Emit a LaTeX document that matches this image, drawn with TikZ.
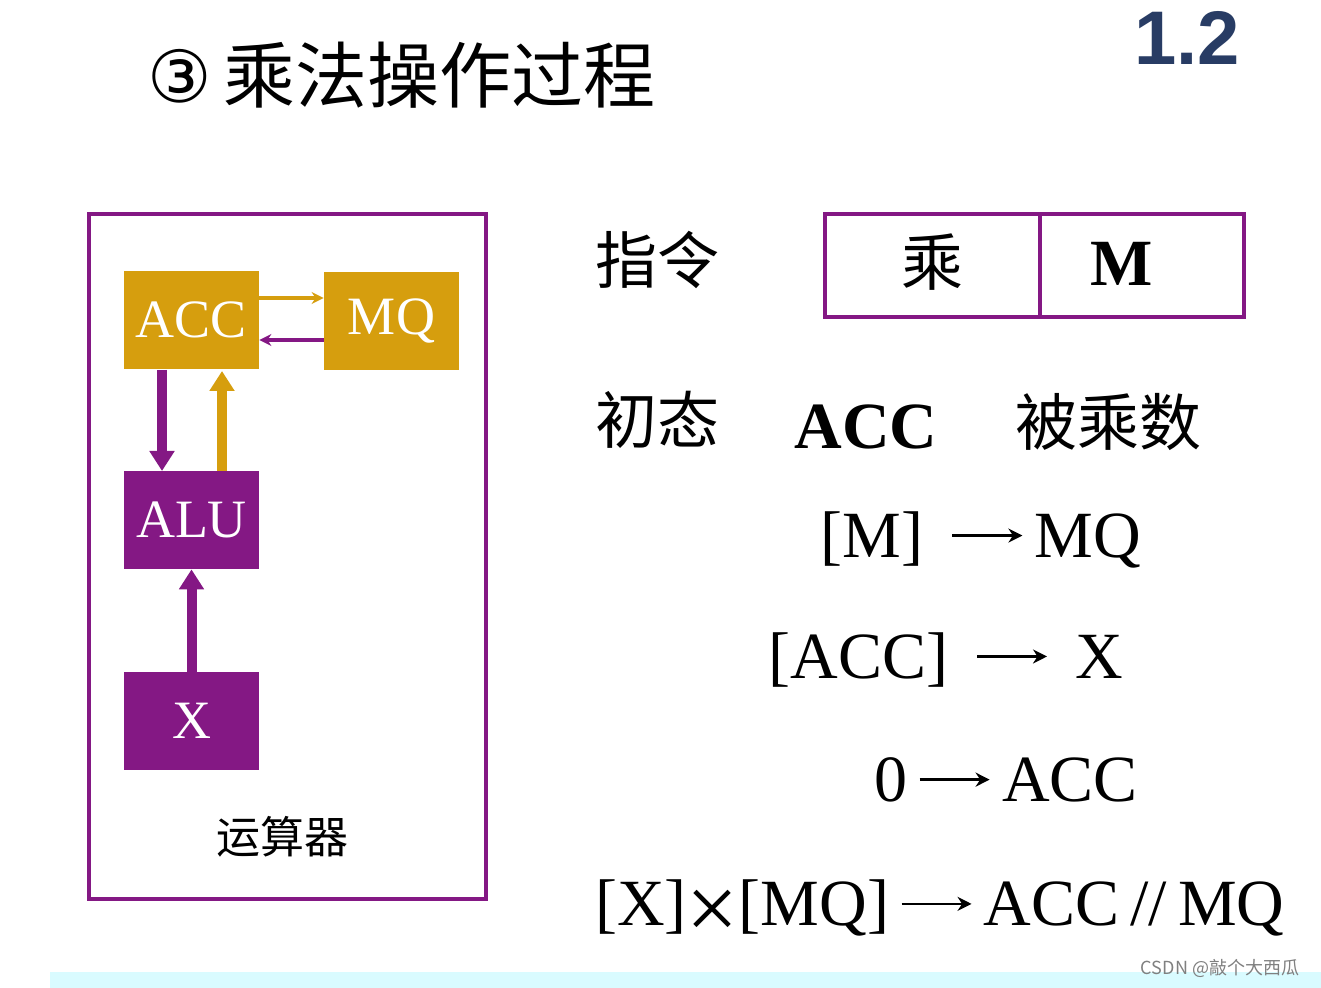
\documentclass[tikz,border=0pt]{standalone}
\usepackage{fontspec}
\setmainfont{Liberation Serif}
\newfontfamily\cjk{Noto Sans CJK SC}
\newfontfamily\dvs{DejaVu Sans}
\newfontfamily\lsans{Liberation Sans}
\usetikzlibrary{arrows.meta}
\definecolor{pur}{RGB}{132,24,132}
\definecolor{gold}{RGB}{214,158,14}
\definecolor{navy}{RGB}{40,60,100}
\newcommand{\larr}[1]{\,\tikz[baseline={(0,-11pt)}]\draw[line width=1.4pt,-{Stealth[width=7pt,length=7pt]}] (0,0)--(#1,0);\,}
\begin{document}
\begin{tikzpicture}[x=0.5pt,y=-0.5pt,
 blk/.style={draw=none,minimum width=67.5pt,minimum height=49pt,inner sep=0pt,text=white,font=\fontsize{27}{28}\selectfont},
 thick arrow/.style={line width=5pt,-{Triangle[width=12pt,length=10pt]}},
 thin arrow/.style={line width=1.8pt,-{Stealth[width=6pt,length=6pt]}},
 big/.style={font=\fontsize{33}{36}\selectfont},
 cn/.style={font=\cjk\fontsize{31}{34}\selectfont}]
\useasboundingbox (0,0) rectangle (1321,988);
\fill[white] (0,0) rectangle (1321,988);
\fill[blue!10!cyan!15] (50,972) rectangle (1321,988);
\node[font=\cjk\fontsize{36}{40}\selectfont,anchor=west] (title) at (140,75) {{\dvs ③}\,乘法操作过程};
\node[font=\lsans\bfseries\fontsize{38}{42}\selectfont,text=navy] (ver) at (1187,38) {1.2};
\draw[pur,line width=2pt] (89,214) rectangle (486,899);
\node[blk,fill=gold] (acc) at (191.5,320) {ACC};
\node[blk,fill=gold] (mq) at (391.5,321) {MQ};
\node[blk,fill=pur] (alu) at (191.5,520) {ALU};
\node[blk,fill=pur] (x) at (191.5,721) {X};
\draw[thin arrow,gold] (acc.east|-0,298) -- (mq.west|-0,298);
\draw[thin arrow,pur] (mq.west|-0,340) -- (acc.east|-0,340);
\draw[thick arrow,pur] (162,370) -- (162,471);
\draw[thick arrow,gold] (222,471) -- (222,371);
\draw[thick arrow,pur] (x.north) -- (alu.south);
\node[font=\cjk\fontsize{22}{26}\selectfont] (ysq) at (282,837) {运算器};
\node[cn] (zl) at (657,260) {指令};
\draw[pur,line width=2pt] (825,214) rectangle (1244,317);
\draw[pur,line width=2pt] (1040,214) -- (1040,317);
\node[cn] (cheng) at (932,262) {乘};
\node[font=\bfseries\fontsize{33}{36}\selectfont] (m) at (1122,264) {M};
\node[cn] (ct) at (657,420) {初态};
\node[font=\bfseries\fontsize{33}{36}\selectfont] (acc2) at (866,427) {ACC};
\node[cn] (bcs) at (1108,422) {被乘数};
\node[big] (l1) at (981,540) {[M] \larr{70}MQ};
\node[big] (l2) at (946,660) {[ACC] \larr{70} X};
\node[big] (l3) at (1006,780) {0\larr{70}ACC};
\node[big] (l4) at (940,910) {[X]{\fontsize{46}{46}\selectfont\raisebox{-7pt}{×}}[MQ]\larr{70}ACC\,//\,MQ};
\node[font=\cjk\fontsize{9}{10}\selectfont,text=gray] (wm) at (1220,968) {CSDN @敲个大西瓜};
\end{tikzpicture}
\end{document}
